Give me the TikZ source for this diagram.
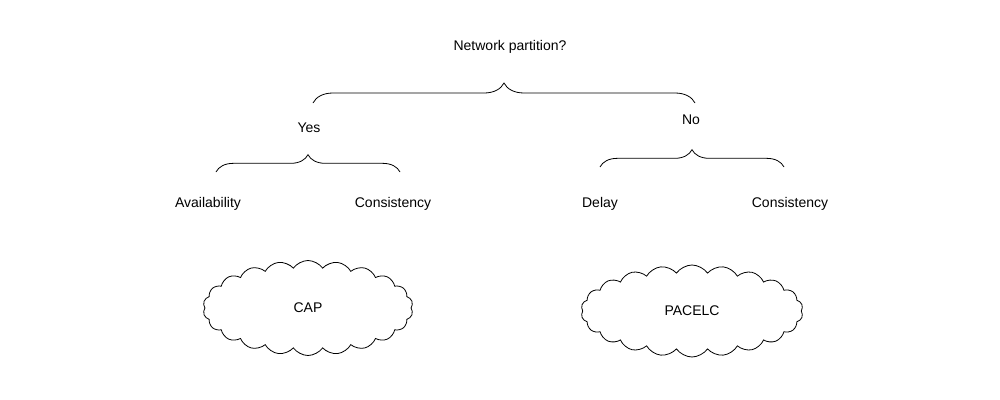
\documentclass[tikz,border=0pt]{standalone}
\usepackage{fontspec}
\setmainfont{Liberation Sans}
\usetikzlibrary{decorations.pathreplacing,shapes.symbols}
\begin{document}
\begin{tikzpicture}[x=0.75pt,y=-0.75pt,
  lbl/.style={font=\fontsize{10.5}{12}\selectfont},
  br/.style={decorate,decoration={brace,amplitude=#1},line width=0.6pt},
  cl/.style={cloud,draw,cloud puffs=22,cloud puff arc=110,aspect=2.2,line width=0.6pt,font=\fontsize{10.5}{12}\selectfont}]
\useasboundingbox (0,0) rectangle (1000,400);
\node[lbl] (np) at (510,47) {Network partition?};
\node[lbl] (yes) at (309,128) {Yes};
\node[lbl] (no) at (691,120) {No};
\node[lbl] (av) at (208,204) {Availability};
\node[lbl] (c1) at (393,204) {Consistency};
\node[lbl] (de) at (600,204) {Delay};
\node[lbl] (c2) at (790,204) {Consistency};
\node[cl,minimum width=210*0.75pt,minimum height=95*0.75pt] (cap) at (308,308) {CAP};
\node[cl,minimum width=222*0.75pt,minimum height=92*0.75pt] (pac) at (692,311) {PACELC};
\coordinate (b1a) at (313,103); \coordinate (b1b) at (695,103);
\coordinate (b2a) at (216,172); \coordinate (b2b) at (400,172);
\coordinate (b3a) at (600,167); \coordinate (b3b) at (784,167);
\draw[br=15pt] (b1a) -- (b1b);
\draw[br=13pt] (b2a) -- (b2b);
\draw[br=13pt] (b3a) -- (b3b);
\end{tikzpicture}
\end{document}
